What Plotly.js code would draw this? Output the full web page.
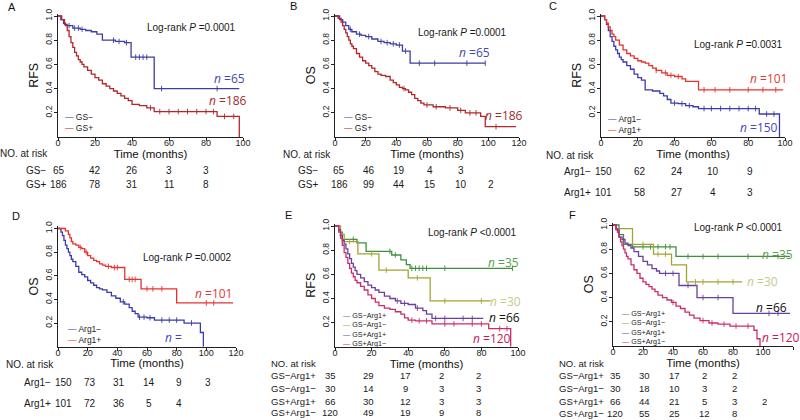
<!DOCTYPE html>
<html>
<head>
<meta charset="utf-8">
<script src="https://cdn.plot.ly/plotly-3.0.1.min.js"></script>
<style>html,body{margin:0;padding:0;background:#fff;}#chart{width:800px;height:420px;}</style>
</head>
<body>
<div id="chart"></div>
<script>
// ---------------- DATA ----------------
// Panel A: RFS by GS
const A_gsNeg_time = [0, 1.5, 3, 4, 8, 12, 15, 18, 21, 24, 31, 36, 39.5, 52, 98];
const A_gsNeg_surv = [1, 0.97, 0.94, 0.92, 0.90, 0.89, 0.88, 0.87, 0.85, 0.80, 0.79, 0.78, 0.66, 0.40, 0.40];
const A_gsNeg_cens = [6, 9, 11, 13, 30, 33, 37, 42, 44, 46, 48, 56, 86];
const A_gsPos_time = [0, 2, 3.5, 5, 6, 7, 8, 9, 10, 11, 12, 13, 14, 16, 18, 20, 22, 24, 26, 28, 30, 32, 34, 36, 38, 40, 44, 48, 52, 86, 98];
const A_gsPos_surv = [1, 0.97, 0.93, 0.88, 0.83, 0.78, 0.74, 0.70, 0.67, 0.64, 0.62, 0.60, 0.58, 0.55, 0.52, 0.49, 0.47, 0.44, 0.42, 0.40, 0.38, 0.36, 0.34, 0.32, 0.30, 0.27, 0.26, 0.24, 0.21, 0.17, 0.0];
const A_gsPos_cens = [50, 55, 60, 65, 70, 75, 80, 84, 90, 95];
// Panel B: OS by GS
const B_gsNeg_time = [0, 3, 5, 7, 9, 11, 14, 17, 20, 24, 28, 32, 36, 40, 44, 49, 98];
const B_gsNeg_surv = [1, 0.97, 0.95, 0.92, 0.89, 0.87, 0.85, 0.84, 0.83, 0.81, 0.79, 0.78, 0.77, 0.76, 0.71, 0.61, 0.61];
const B_gsNeg_cens = [10, 16, 22, 30, 34, 38, 42, 46, 55, 65, 86, 98];
const B_gsPos_time = [0, 2, 4, 5, 6, 7, 8, 9, 10, 11, 12, 14, 16, 18, 20, 22, 24, 26, 28, 30, 33, 36, 38, 40, 42, 44, 46, 48, 50, 52, 54, 56, 58, 64, 72, 80, 85, 95, 98, 118];
const B_gsPos_surv = [1, 0.98, 0.95, 0.92, 0.89, 0.86, 0.83, 0.80, 0.77, 0.75, 0.73, 0.69, 0.66, 0.63, 0.61, 0.59, 0.57, 0.54, 0.52, 0.51, 0.50, 0.47, 0.45, 0.43, 0.41, 0.40, 0.39, 0.37, 0.35, 0.32, 0.30, 0.28, 0.265, 0.25, 0.24, 0.22, 0.20, 0.17, 0.085, 0.085];
const B_gsPos_cens = [45, 60, 66, 75, 82, 88, 92, 105];
// Panel C: RFS by Arg1
const C_argNeg_time = [0, 2, 3, 4, 5, 6, 7, 8, 9, 10, 11, 12, 14, 16, 18, 20, 22, 24, 28, 32, 34, 36, 38, 42, 46, 50, 53, 86, 97];
const C_argNeg_surv = [1, 0.97, 0.93, 0.88, 0.83, 0.79, 0.75, 0.72, 0.69, 0.66, 0.64, 0.62, 0.59, 0.56, 0.52, 0.49, 0.47, 0.39, 0.38, 0.36, 0.34, 0.31, 0.28, 0.275, 0.26, 0.25, 0.235, 0.19, 0];
const C_argNeg_cens = [40, 44, 48, 56, 60, 65, 70, 75, 80, 84, 90, 94];
const C_argPos_time = [0, 2, 3, 4, 5, 6, 7, 8, 10, 12, 14, 16, 18, 20, 22, 24, 26, 28, 30, 33, 36, 40, 44, 46, 53, 99];
const C_argPos_surv = [1, 0.97, 0.94, 0.91, 0.88, 0.85, 0.83, 0.80, 0.76, 0.72, 0.69, 0.67, 0.65, 0.63, 0.62, 0.61, 0.59, 0.57, 0.55, 0.53, 0.51, 0.50, 0.48, 0.46, 0.39, 0.39];
const C_argPos_cens = [30, 35, 38, 42, 56, 62, 70, 80, 88, 95];
// Panel D: OS by Arg1
const D_argNeg_time = [0, 2, 3, 4, 5, 6, 7, 8, 9, 10, 12, 14, 16, 18, 20, 22, 24, 26, 28, 30, 33, 36, 39, 42, 45, 48, 50, 52, 54, 60, 65, 85, 96, 98];
const D_argNeg_surv = [1, 0.97, 0.94, 0.90, 0.86, 0.83, 0.80, 0.77, 0.74, 0.72, 0.68, 0.63, 0.61, 0.59, 0.56, 0.54, 0.52, 0.50, 0.49, 0.48, 0.46, 0.43, 0.41, 0.38, 0.36, 0.33, 0.30, 0.28, 0.25, 0.245, 0.225, 0.20, 0.12, 0];
const D_argNeg_cens = [44, 55, 58, 62, 70, 75, 80, 90];
const D_argPos_time = [0, 5, 7, 8, 9, 10, 12, 14, 16, 18, 20, 22, 24, 26, 28, 30, 32, 36, 45, 56, 80, 118];
const D_argPos_surv = [1, 0.98, 0.95, 0.92, 0.89, 0.87, 0.86, 0.84, 0.83, 0.80, 0.77, 0.75, 0.73, 0.72, 0.70, 0.69, 0.68, 0.67, 0.57, 0.49, 0.37, 0.37];
const D_argPos_cens = [15, 19, 34, 38, 40, 48, 50, 52, 60, 64, 70, 100, 105];
// Panel E: RFS by GS/Arg1 combination
const E_g1_time = [0, 2, 4, 12, 17, 31, 36, 39, 41, 97];
const E_g1_surv = [1, 0.95, 0.89, 0.86, 0.79, 0.76, 0.72, 0.68, 0.65, 0.65];
const E_g1_cens = [10, 30, 33, 42, 44, 46, 48, 50, 60, 97];
const E_g2_time = [0, 3, 5, 12.5, 24, 40, 52, 85];
const E_g2_surv = [1, 0.93, 0.87, 0.77, 0.635, 0.57, 0.38, 0.38];
const E_g2_cens = [8, 20, 28, 45, 60, 80];
const E_g3_time = [0, 2, 3, 4, 5, 6, 7, 8, 9, 10, 11, 12, 14, 16, 18, 20, 22, 24, 27, 30, 33, 36, 40, 44, 48, 50, 53, 81];
const E_g3_surv = [1, 0.97, 0.92, 0.88, 0.85, 0.81, 0.77, 0.73, 0.69, 0.66, 0.63, 0.60, 0.57, 0.54, 0.51, 0.49, 0.47, 0.45, 0.42, 0.40, 0.38, 0.36, 0.35, 0.32, 0.30, 0.27, 0.235, 0.235];
const E_g3_cens = [34, 38, 45, 55, 60, 70, 75];
const E_g4_time = [0, 2, 3, 4, 5, 6, 7, 8, 9, 10, 11, 12, 14, 16, 18, 20, 22, 24, 27, 30, 33, 36, 38, 40, 44, 53, 84, 96];
const E_g4_surv = [1, 0.96, 0.90, 0.84, 0.78, 0.74, 0.69, 0.65, 0.61, 0.58, 0.55, 0.53, 0.50, 0.47, 0.43, 0.40, 0.37, 0.34, 0.32, 0.31, 0.29, 0.27, 0.24, 0.22, 0.215, 0.19, 0.15, 0];
const E_g4_cens = [42, 46, 50, 60, 65, 75, 80, 90, 94];
// Panel F: OS by GS/Arg1 combination
const F_g1_time = [0, 4, 7, 13, 42, 118];
const F_g1_surv = [1, 0.92, 0.84, 0.82, 0.74, 0.74];
const F_g1_cens = [20, 25, 30, 35, 38, 50, 60, 70, 90, 110];
const F_g2_time = [0, 2, 13, 27, 39, 49, 86];
const F_g2_surv = [1, 0.97, 0.84, 0.76, 0.67, 0.53, 0.53];
const F_g2_cens = [20, 30, 35, 55, 60, 70, 80];
const F_g3_time = [0, 2, 4, 6, 8, 10, 12, 14, 17, 20, 23, 26, 29, 31, 44, 56, 80, 118];
const F_g3_surv = [1, 0.96, 0.90, 0.88, 0.85, 0.83, 0.81, 0.78, 0.74, 0.70, 0.67, 0.64, 0.62, 0.60, 0.50, 0.40, 0.27, 0.27];
const F_g3_cens = [35, 40, 50, 60, 70, 104, 110];
const F_g4_time = [0, 2, 3, 4, 5, 6, 7, 8, 9, 10, 12, 14, 16, 18, 20, 22, 24, 26, 28, 30, 33, 36, 39, 42, 45, 48, 51, 54, 58, 64, 70, 78, 86, 94, 96, 98];
const F_g4_surv = [1, 0.97, 0.94, 0.90, 0.86, 0.83, 0.80, 0.77, 0.74, 0.72, 0.67, 0.63, 0.60, 0.56, 0.53, 0.51, 0.49, 0.47, 0.45, 0.42, 0.40, 0.38, 0.36, 0.33, 0.31, 0.28, 0.255, 0.23, 0.21, 0.19, 0.18, 0.165, 0.165, 0.13, 0.06, 0];
const F_g4_cens = [40, 60, 66, 74, 82, 90];

// Numbers at risk
const riskTimes = [0, 20, 40, 60, 80, 100];
const A_risk = [[65, 42, 26, 3, 3], [186, 78, 31, 11, 8]];
const B_risk = [[65, 46, 19, 4, 3], [186, 99, 44, 15, 10, 2]];
const C_risk = [[150, 62, 24, 10, 9], [101, 58, 27, 4, 3]];
const D_risk = [[150, 73, 31, 14, 9, 3], [101, 72, 36, 5, 4]];
const E_risk = [[35, 29, 17, 2, 2], [30, 14, 9, 3, 3], [66, 30, 12, 3, 3], [120, 49, 19, 9, 8]];
const F_risk = [[35, 30, 17, 2, 2], [30, 18, 10, 3, 2], [66, 44, 21, 5, 3, 2], [120, 55, 25, 12, 8]];

// Labels
const gsLabels = ['GS\u2212', 'GS+'];
const argLabels = ['Arg1\u2212', 'Arg1+'];
const comboLabels = ['GS\u2212Arg1+', 'GS\u2212Arg1\u2212', 'GS+Arg1+', 'GS+Arg1\u2212'];
const pValues = ['=0.0001', '=0.0001', '=0.0031', '=0.0002', '<0.0001', '<0.0001'];
const nLabels = {A: ['65', '186'], B: ['65', '186'], C: ['101', '150'], D: ['101', ''], E: ['35', '30', '66', '120'], F: ['35', '30', '66', '120']};
const yTitles = ['RFS', 'OS', 'RFS', 'OS', 'RFS', 'OS'];
const panelLetters = ['A', 'B', 'C', 'D', 'E', 'F'];
const xMax = [100, 120, 100, 120, 100, 120];

// ---------------- STYLE ----------------
const blueAB = '#3d3da3', redAB = '#b3272b';
const blueCD = '#3b3bab', redCD = '#e8322e';
const cGreen = '#3f8f3f', cOlive = '#a3a331', cPurple = '#6a3f9f', cPink = '#cc2c6c';
const W = 800, H = 420;
const px = x => x / W, py = y => 1 - y / H;

// plot-area pixel frames: left (t=0), right (t=max), bottom (S=0), top (S=1)
const frames = [
  {l: 58, r: 243, b: 137, t: 16},
  {l: 335, r: 519, b: 137, t: 16},
  {l: 601, r: 785, b: 137, t: 16},
  {l: 58, r: 236, b: 346.7, t: 228.5},
  {l: 335, r: 518, b: 346.8, t: 226},
  {l: 613, r: 793, b: 346, t: 225}
];
const YTOP = 1.02;

function stepAt(times, surv, t) {
  let v = surv[0];
  for (let i = 0; i < times.length; i++) { if (times[i] <= t) v = surv[i]; }
  return v;
}

const traces = [];
function addCurve(k, times, surv, cens, color) {
  const xa = k === 0 ? 'x' : 'x' + (k + 1);
  const ya = k === 0 ? 'y' : 'y' + (k + 1);
  traces.push({type: 'scatter', mode: 'lines', x: times, y: surv, xaxis: xa, yaxis: ya,
    line: {shape: 'hv', color: color, width: 1.3}, showlegend: false, hoverinfo: 'skip'});
  traces.push({type: 'scatter', mode: 'markers', x: cens, y: cens.map(t => stepAt(times, surv, t)),
    xaxis: xa, yaxis: ya, marker: {symbol: 'line-ns-open', size: 4, color: color, line: {color: color, width: 0.9}},
    showlegend: false, hoverinfo: 'skip'});
}
addCurve(0, A_gsNeg_time, A_gsNeg_surv, A_gsNeg_cens, blueAB);
addCurve(0, A_gsPos_time, A_gsPos_surv, A_gsPos_cens, redAB);
addCurve(1, B_gsNeg_time, B_gsNeg_surv, B_gsNeg_cens, blueAB);
addCurve(1, B_gsPos_time, B_gsPos_surv, B_gsPos_cens, redAB);
addCurve(2, C_argNeg_time, C_argNeg_surv, C_argNeg_cens, blueCD);
addCurve(2, C_argPos_time, C_argPos_surv, C_argPos_cens, redCD);
addCurve(3, D_argNeg_time, D_argNeg_surv, D_argNeg_cens, blueCD);
addCurve(3, D_argPos_time, D_argPos_surv, D_argPos_cens, redCD);
addCurve(4, E_g1_time, E_g1_surv, E_g1_cens, cGreen);
addCurve(4, E_g2_time, E_g2_surv, E_g2_cens, cOlive);
addCurve(4, E_g3_time, E_g3_surv, E_g3_cens, cPurple);
addCurve(4, E_g4_time, E_g4_surv, E_g4_cens, cPink);
addCurve(5, F_g1_time, F_g1_surv, F_g1_cens, cGreen);
addCurve(5, F_g2_time, F_g2_surv, F_g2_cens, cOlive);
addCurve(5, F_g3_time, F_g3_surv, F_g3_cens, cPurple);
addCurve(5, F_g4_time, F_g4_surv, F_g4_cens, cPink);

const FONT = 'Liberation Sans, Arial, sans-serif';
const layout = {
  width: W, height: H, margin: {l: 0, r: 0, t: 0, b: 0},
  paper_bgcolor: '#fff', plot_bgcolor: '#fff', showlegend: false,
  font: {family: FONT, color: '#1a1a1a'},
  annotations: []
};
frames.forEach((f, k) => {
  const xn = k === 0 ? 'xaxis' : 'xaxis' + (k + 1);
  const yn = k === 0 ? 'yaxis' : 'yaxis' + (k + 1);
  const yTopPx = f.b - YTOP * (f.b - f.t);
  layout[xn] = {
    domain: [px(f.l), px(f.r)], range: [0, xMax[k]], anchor: k === 0 ? 'y' : 'y' + (k + 1),
    tickvals: [0, 20, 40, 60, 80, 100, 120].filter(v => v <= xMax[k]),
    ticks: 'outside', ticklen: 3, tickwidth: 1, tickcolor: '#222', ticklabelstandoff: -6,
    showline: true, linecolor: '#222', linewidth: 1, showgrid: false, zeroline: false,
    tickfont: {size: 9, family: FONT, color: '#222'},
    title: {text: 'Time (months)', font: {size: 11.5, family: FONT, color: '#111'}, standoff: 0}
  };
  layout[yn] = {
    domain: [py(f.b), py(yTopPx)], range: [0, YTOP], anchor: k === 0 ? 'x' : 'x' + (k + 1),
    tickvals: [0.2, 0.4, 0.6, 0.8, 1.0], ticktext: ['0.2', '0.4', '0.6', '0.8', '1.0'],
    tickangle: -90, ticks: 'outside', ticklen: 3, tickwidth: 1, tickcolor: '#222', ticklabelstandoff: -1,
    showline: true, linecolor: '#222', linewidth: 1, showgrid: false, zeroline: false,
    tickfont: {size: 8.5, family: FONT, color: '#222'},
    title: {text: yTitles[k], font: {size: 12.5, family: FONT, color: '#111'}, standoff: 2}
  };
});

const ann = layout.annotations;
function txt(xp, yp, text, opts) {
  ann.push(Object.assign({xref: 'paper', yref: 'paper', x: px(xp), y: py(yp), text: text,
    showarrow: false, xanchor: 'center', yanchor: 'middle', borderpad: 0,
    font: {size: 10, family: FONT, color: '#1a1a1a'}}, opts || {}));
}
// panel letters
[[12, 7], [293, 6], [553, 6], [16, 216], [288, 215], [572, 215]].forEach((p, i) =>
  txt(p[0], p[1], panelLetters[i], {font: {size: 11, family: FONT, color: '#111'}}));
// log-rank
[[191, 28], [462, 33], [738, 45], [187, 257], [472, 232], [738, 228]].forEach((p, i) =>
  txt(p[0], p[1], 'Log-rank <i>P</i> ' + pValues[i], {font: {size: 10, family: FONT, color: '#1a1a1a'}}));
// n labels
const NF = 'Open Sans, Noto Sans, sans-serif';
function nLab(xp, yp, val, color) {
  txt(xp, yp, '<i>n</i> =' + val, {font: {size: 12, family: NF, color: color}});
}
nLab(229, 78, nLabels.A[0], '#4646b4'); nLab(228, 100, nLabels.A[1], '#a8282c');
nLab(474, 52, nLabels.B[0], '#4646b4'); nLab(504, 115, nLabels.B[1], '#a8282c');
nLab(768, 78, nLabels.C[0], '#e0393a'); nLab(759, 127, nLabels.C[1], '#4646c0');
nLab(213, 293, nLabels.D[0], '#e0393a'); txt(164, 337, '<i>n</i> =', {xanchor: 'left', font: {size: 12, family: NF, color: '#4646c0'}});
nLab(503, 262, nLabels.E[0], '#5a9f4e'); nLab(505, 301, nLabels.E[1], '#c9c98a');
nLab(504, 317, nLabels.E[2], '#111111'); nLab(492, 338, nLabels.E[3], '#c22052');
nLab(777, 255, nLabels.F[0], '#5a9f4e'); nLab(762, 281, nLabels.F[1], '#c9c98a');
nLab(771, 307, nLabels.F[2], '#111111'); nLab(781, 337, nLabels.F[3], '#c22052');

// legends (one multi-line annotation per panel)
function legend(xp, yc, labels, colors, size) {
  const lines = labels.map((lab, i) => '<span style="color:' + colors[i] + '">\u2014</span> ' + lab);
  txt(xp, yc, lines.join('<br>'), {xanchor: 'left', align: 'left', font: {size: size, family: FONT, color: '#1a1a1a'}});
}
legend(64, 122.5, gsLabels, [blueAB, redAB], 8.5);
legend(343, 122.5, gsLabels, [blueAB, redAB], 8.5);
legend(607, 124, argLabels, [blueCD, redCD], 8.5);
legend(67, 334, argLabels, [blueCD, redCD], 8.5);
legend(342, 329.5, comboLabels, [cGreen, cOlive, cPurple, cPink], 7.2);
legend(621, 327.5, comboLabels, [cGreen, cOlive, cPurple, cPink], 7.2);

// risk tables
function riskTable(k, headXY, rowX, rowYs, labels, rows, shift, firstShift, size) {
  const xa = k === 0 ? 'x' : 'x' + (k + 1);
  txt(headXY[0], headXY[1], 'NO. at risk', {xanchor: 'left', font: {size: size, family: FONT, color: '#1a1a1a'}});
  rows.forEach((row, r) => {
    txt(rowX, rowYs[r], labels[r], {xanchor: 'left', font: {size: size, family: FONT, color: '#1a1a1a'}});
    row.forEach((v, c) => ann.push({xref: xa, yref: 'paper', x: riskTimes[c], y: py(rowYs[r]), text: String(v),
      showarrow: false, xanchor: 'center', yanchor: 'middle', borderpad: 0, xshift: shift + (c === 0 ? firstShift : 0),
      font: {size: size, family: FONT, color: '#1a1a1a'}}));
  });
}
riskTable(0, [-1, 153], 25, [170, 184], gsLabels, A_risk, 0, 1, 10);
riskTable(1, [282, 154], 297, [170, 184], gsLabels, B_risk, 3, 1, 10);
riskTable(2, [545, 155], 563, [171, 193], argLabels, C_risk, 2, 0, 10);
riskTable(3, [5, 364], 23, [382, 403], argLabels, D_risk, 2, 4, 10);
riskTable(4, [270, 363], 270, [375, 388, 401, 412], comboLabels, E_risk, -3, -2, 9.5);
riskTable(5, [558, 363], 558, [375, 388, 401, 413], comboLabels, F_risk, 1, 1, 9.5);

Plotly.newPlot('chart', traces, layout, {staticPlot: true, displayModeBar: false});
</script>
</body>
</html>
